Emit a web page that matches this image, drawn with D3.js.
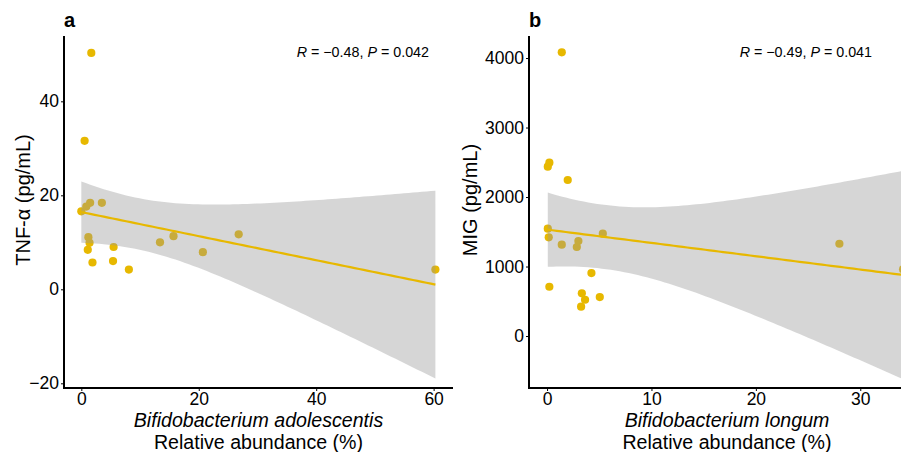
<!DOCTYPE html>
<html>
<head>
<meta charset="utf-8">
<script src="https://cdn.jsdelivr.net/npm/d3@7"></script>
<style>
  html, body { margin: 0; padding: 0; background: #fff; }
  svg { display: block; font-family: "Liberation Sans", Arial, Helvetica, sans-serif; }
</style>
</head>
<body>
<svg id="chart" width="901" height="452"></svg>
<script>
// ---- Data ----
const abundanceA = [1.7, 0.56, 0.0, 0.85, 1.5, 3.5, 1.2, 1.4, 1.1, 1.9, 5.5, 5.4, 8.1, 13.4, 15.7, 20.7, 26.8, 60.3];
const tnfA       = [50.3, 31.6, 16.6, 17.6, 18.4, 18.4, 11.1, 9.9, 8.4, 5.7, 9.0, 6.0, 4.2, 10.0, 11.3, 7.9, 11.7, 4.2];

const abundanceB = [0.22, 0.07, 1.98, 0.07, 0.16, 1.41, 3.0, 2.85, 5.34, 28.0, 34.1, 4.25, 0.22, 3.33, 3.64, 5.05, 3.26, 1.41];
const migB       = [2494, 2436, 2245, 1544, 1420, 1314, 1367, 1281, 1472, 1328, 960, 906, 709, 614, 522, 561, 422, 4082];

const xTicksA = [0, 20, 40, 60];
const yTicksA = [-20, 0, 20, 40];
const xTicksB = [0, 10, 20, 30];
const yTicksB = [0, 1000, 2000, 3000, 4000];

const xLimA = [-2.95, 63.3];
const yLimA = [-21.0, 53.9];
const xLimB = [-1.73, 36.2];
const yLimB = [-748, 4317];

const panels = [
  { tag: "a", x: abundanceA, y: tnfA, xTicks: xTicksA, yTicks: yTicksA, xLim: xLimA, yLim: yLimA,
    left: 64, right: 453, yTitle: "TNF-\u03b1 (pg/mL)", yTitleX: 30,
    species: "Bifidobacterium adolescentis", stat: ["R", " = \u22120.48, ", "P", " = 0.042"], statX: 429 },
  { tag: "b", x: abundanceB, y: migB, xTicks: xTicksB, yTicks: yTicksB, xLim: xLimB, yLim: yLimB,
    left: 529, right: 925, yTitle: "MIG (pg/mL)", yTitleX: 477,
    species: "Bifidobacterium longum", stat: ["R", " = \u22120.49, ", "P", " = 0.041"], statX: 872 }
];

const plotTop = 36, plotBottom = 388;
const gold = "#E7B800";
const svg = d3.select("#chart");

// Student t 0.975 quantile for df = 16
const tCrit = 2.1199;

function fit(xs, ys) {
  const n = xs.length;
  const mx = d3.mean(xs), my = d3.mean(ys);
  let sxx = 0, sxy = 0;
  for (let i = 0; i < n; i++) { sxx += (xs[i]-mx)**2; sxy += (xs[i]-mx)*(ys[i]-my); }
  const b = sxy / sxx, a = my - b*mx;
  let sse = 0;
  for (let i = 0; i < n; i++) sse += (ys[i] - (a + b*xs[i]))**2;
  const s = Math.sqrt(sse / (n - 2));
  const [x0, x1] = d3.extent(xs);
  return d3.range(80).map(i => {
    const x = x0 + (x1 - x0) * i / 79;
    const yh = a + b*x;
    const se = s * Math.sqrt(1/n + (x-mx)**2 / sxx);
    return { x, y: yh, lo: yh - tCrit*se, hi: yh + tCrit*se };
  });
}

panels.forEach(p => {
  const xs = d3.scaleLinear().domain(p.xLim).range([p.left, p.right]);
  const ys = d3.scaleLinear().domain(p.yLim).range([plotBottom, plotTop]);
  const g = svg.append("g");
  const data = p.x.map((v, i) => ({ x: v, y: p.y[i] }));
  const band = fit(p.x, p.y);

  g.append("g").selectAll("circle").data(data).join("circle")
    .attr("cx", d => xs(d.x)).attr("cy", d => ys(d.y)).attr("r", 4.1)
    .attr("fill", gold);

  g.append("path").datum(band)
    .attr("d", d3.area().x(d => xs(d.x)).y0(d => ys(d.lo)).y1(d => ys(d.hi)))
    .attr("fill", "#999999").attr("fill-opacity", 0.4);

  g.append("path").datum(band)
    .attr("d", d3.line().x(d => xs(d.x)).y(d => ys(d.y)))
    .attr("fill", "none").attr("stroke", gold).attr("stroke-width", 2.2);

  const xAxis = g.append("g").attr("transform", `translate(0,${plotBottom})`)
    .call(d3.axisBottom(xs).tickValues(p.xTicks).tickSize(3).tickPadding(1.6).tickFormat(d3.format("d")));
  const yAxis = g.append("g").attr("transform", `translate(${p.left},0)`)
    .call(d3.axisLeft(ys).tickValues(p.yTicks).tickSize(3).tickPadding(2)
      .tickFormat(d => d < 0 ? "\u2212" + Math.abs(d) : d));
  [xAxis, yAxis].forEach(ax => {
    ax.select(".domain").remove();
    ax.selectAll(".tick line").attr("stroke", "#000").attr("stroke-width", 1);
    ax.selectAll(".tick text").attr("fill", "#000").style("font-size", "17.5px")
      .style("font-family", "'Liberation Sans', Arial, sans-serif");
  });
  g.append("line").attr("x1", p.left).attr("x2", p.right).attr("y1", plotBottom).attr("y2", plotBottom)
    .attr("stroke", "#000").attr("stroke-width", 2);
  g.append("line").attr("x1", p.left).attr("x2", p.left).attr("y1", plotTop).attr("y2", plotBottom + 1)
    .attr("stroke", "#000").attr("stroke-width", 2);

  g.append("text").attr("x", p.left).attr("y", 27).text(p.tag)
    .style("font-size", "20px").style("font-weight", "bold");

  const st = g.append("text").attr("x", p.statX).attr("y", 57).attr("text-anchor", "end")
    .style("font-size", "14.3px");
  p.stat.forEach((s, i) => {
    st.append("tspan").text(s).style("font-style", i % 2 === 0 ? "italic" : "normal");
  });

  g.append("text").attr("transform", `translate(${p.yTitleX},200) rotate(-90)`)
    .attr("text-anchor", "middle").style("font-size", "20px").text(p.yTitle);

  const cx = (p.left + p.right) / 2;
  g.append("text").attr("x", cx).attr("y", 426.5).attr("text-anchor", "middle")
    .style("font-size", "19.6px").style("font-style", "italic").text(p.species);
  g.append("text").attr("x", cx).attr("y", 448.5).attr("text-anchor", "middle")
    .style("font-size", "19.6px").text("Relative abundance (%)");
});
</script>
</body>
</html>
